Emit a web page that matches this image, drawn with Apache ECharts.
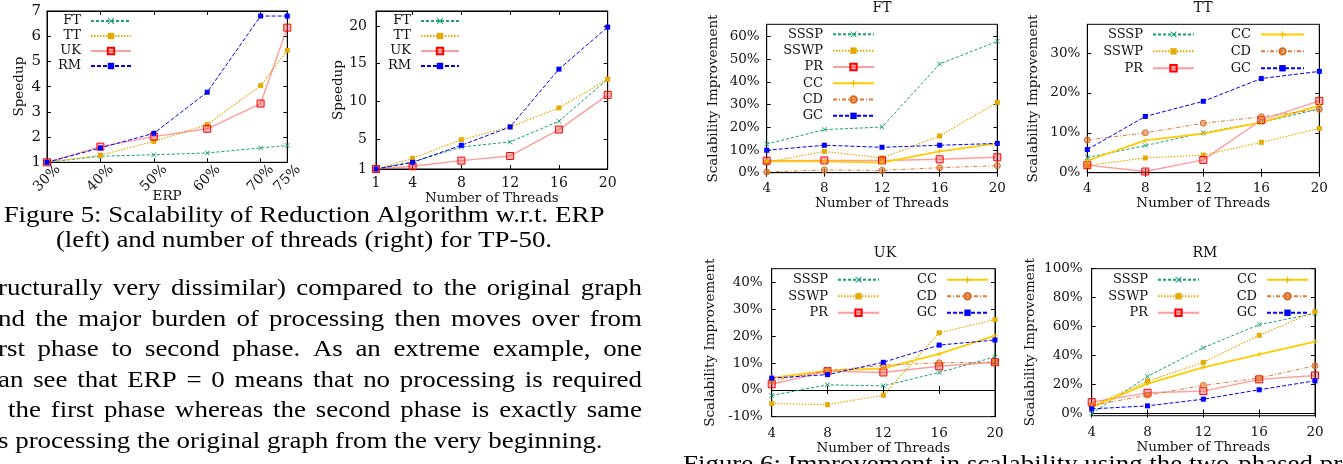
<!DOCTYPE html>
<html><head><meta charset="utf-8">
<script src="https://cdn.jsdelivr.net/npm/echarts@6/dist/echarts.min.js"></script>
<style>html,body{margin:0;padding:0;background:#fff}#c{width:1343px;height:464px}</style>
</head><body><div id="c"></div>
<script>
// ---------------- data ----------------
const erpTicks = [30, 40, 50, 60, 70, 75];
const erpFT = [1.00, 1.24, 1.30, 1.37, 1.57, 1.67];
const erpTT = [1.00, 1.28, 1.83, 2.49, 4.04, 5.44];
const erpUK = [1.00, 1.62, 2.02, 2.33, 3.33, 6.34];
const erpRM = [1.00, 1.57, 2.15, 3.78, 6.80, 6.80];
const speedupTicksERP = [1, 2, 3, 4, 5, 6, 7];

const thrTicks = [1, 4, 8, 12, 16, 20];
const thrFT = [1.00, 1.93, 3.93, 4.60, 7.35, 12.94];
const thrTT = [1.00, 2.42, 4.90, 6.59, 9.12, 12.94];
const thrUK = [1.00, 1.36, 2.11, 2.73, 6.24, 10.85];
const thrRM = [1.00, 1.89, 4.15, 6.59, 14.27, 19.86];
const speedupTicksThr = [1, 5, 10, 15, 20];

const impThreads = [4, 8, 12, 16, 20];
const ftSSSP = [12.6, 19.0, 20.1, 47.9, 57.9];
const ftSSWP = [4.6, 9.4, 6.5, 16.2, 31.0];
const ftPR   = [5.3, 5.4, 5.4, 5.9, 6.8];
const ftCC   = [5.0, 5.0, 4.4, 9.4, 12.9];
const ftCD   = [0.3, 1.2, 1.0, 2.2, 3.1];
const ftGC   = [9.9, 12.1, 11.2, 12.1, 12.9];

const ttSSSP = [3.8, 6.8, 10.0, 12.6, 16.0];
const ttSSWP = [1.8, 3.7, 4.4, 7.6, 11.1];
const ttPR   = [1.9, 0.3, 3.2, 13.2, 18.0];
const ttCC   = [3.0, 8.1, 9.8, 12.6, 16.8];
const ttCD   = [8.2, 10.0, 12.4, 14.0, 15.9];
const ttGC   = [5.8, 14.1, 17.9, 23.6, 25.4];

const ukSSSP = [-2.1, 1.9, 1.5, 6.5, 12.3];
const ukSSWP = [-5.1, -5.5, -2.0, 21.3, 26.2];
const ukPR   = [2.1, 7.0, 6.5, 8.8, 10.3];
const ukCC   = [4.5, 7.2, 8.0, 13.4, 20.2];
const ukCD   = [3.4, 7.1, 9.2, 10.1, 10.3];
const ukGC   = [4.4, 5.7, 10.3, 16.7, 18.6];

const rmSSSP = [0.0, 25.6, 45.5, 61.4, 69.1];
const rmSSWP = [5.3, 22.4, 35.3, 54.0, 70.4];
const rmPR   = [7.9, 14.3, 15.5, 23.6, 26.3];
const rmCC   = [4.4, 20.6, 31.9, 40.9, 49.7];
const rmCD   = [5.5, 12.7, 19.4, 24.5, 33.0];
const rmGC   = [3.2, 5.3, 9.9, 16.4, 22.6];

const ftTicks = [0, 10, 20, 30, 40, 50, 60];
const ttTicks = [0, 10, 20, 30];
const ukTicks = [-10, 0, 10, 20, 30, 40];
const rmTicks = [0, 20, 40, 60, 80, 100];

const datasetNames = ['FT', 'TT', 'UK', 'RM'];
const algoNames = ['SSSP', 'SSWP', 'PR', 'CC', 'CD', 'GC'];

const captionLines = [
  'Figure 5: Scalability of Reduction Algorithm w.r.t. ERP',
  '(left) and number of threads (right) for TP-50.'
];
const bodyLines = [
  'ructurally very dissimilar) compared to the original graph',
  'nd the major burden of processing then moves over from',
  'rst phase to second phase.  As an extreme example, one',
  'an see that ERP = 0 means that no processing is required',
  'the first phase whereas the second phase is exactly same',
  's processing the original graph from the very beginning.'
];
const fig6Caption = 'Figure 6: Improvement in scalability using the two-phased processing';

// ---------------- styles ----------------
const SERIF = '"DejaVu Serif", serif';
const PAGE_SERIF = '"Liberation Serif", serif';
const TXT = '#111';
const X_PATH = 'path://M0,1L1,0L5,4L9,0L10,1L6,5L10,9L9,10L5,6L1,10L0,9L4,5Z';
const PLUS_PATH = 'path://M4,0H6V4H10V6H6V10H4V6H0V4H4Z';
const STY = {
  green:  {line: '#1b9e77', type: [3, 2], width: 1, symbol: X_PATH, size: 5, fill: '#1b9e77'},
  gold:   {line: '#e6ab02', type: [1.5, 1.5], width: 1.2, symbol: 'rect', size: 5, fill: '#e6ab02'},
  red:    {line: 'rgba(255,90,90,0.6)', type: 'solid', width: 1.4, symbol: 'rect', size: 7, fill: 'rgba(255,60,60,0.35)', border: '#ff0000'},
  blue:   {line: '#0000ff', type: [4, 2], width: 1, symbol: 'rect', size: 5, fill: '#0000ff'},
  yellow: {line: '#ffcc00', type: 'solid', width: 1.8, symbol: PLUS_PATH, size: 5, fill: '#f0c000'},
  orange: {line: '#e07b39', type: [4, 2, 1, 2], width: 1, symbol: 'circle', size: 6, fill: 'rgba(230,120,50,0.55)', border: '#d86a20'}
};
const styleOf = {FT: 'green', TT: 'gold', UK: 'red', RM: 'blue',
  SSSP: 'green', SSWP: 'gold', PR: 'red', CC: 'yellow', CD: 'orange', GC: 'blue'};

// ---------------- layout ----------------
const W = 1343;
const grids = [
  {left: 47, top: 11, width: 240.3, height: 151.3},
  {left: 376, top: 11, width: 231.7, height: 158},
  {left: 766.7, top: 24.3, width: 230.6, height: 148.4},
  {left: 1087.3, top: 24.3, width: 232, height: 148.4},
  {left: 771.7, top: 268.7, width: 223.3, height: 148},
  {left: 1091.7, top: 268.7, width: 223.3, height: 147}
];

const font = (s) => ({fontFamily: SERIF, fontSize: s, color: TXT});
const AX_FS = 13.5;

const xAxes = [], yAxes = [], series = [];
function addAxes(gi, xc, yc) {
  const tickX = {show: true, inside: true, length: 4, lineStyle: {color: '#000'}, customValues: xc.ticks};
  const tickY = {show: true, inside: true, length: 4, lineStyle: {color: '#000'}, customValues: yc.ticks};
  const xl = Object.assign({customValues: xc.ticks, margin: xc.margin, rotate: xc.rotate || 0,
      formatter: xc.fmt || '{value}', showMinLabel: true, showMaxLabel: true}, font(xc.fs || AX_FS));
  if (xc.rotate) { xl.align = 'center'; xl.verticalAlign = 'middle'; }
  xAxes.push({type: 'value', gridIndex: gi, min: xc.min, max: xc.max, position: 'bottom',
    axisLine: {show: true, lineStyle: {color: '#000'}}, axisTick: tickX, splitLine: {show: false},
    axisLabel: xl, nameMoveOverlap: false,
    name: xc.name, nameLocation: 'middle', nameGap: xc.nameGap, nameTextStyle: font(AX_FS)});
  xAxes.push({type: 'value', gridIndex: gi, min: xc.min, max: xc.max, position: 'top',
    axisLine: {show: true, lineStyle: {color: '#000'}}, axisTick: tickX, splitLine: {show: false},
    axisLabel: {show: false}});
  yAxes.push({type: 'value', gridIndex: gi, min: yc.min, max: yc.max, position: 'left',
    axisLine: {show: true, lineStyle: {color: '#000'}}, axisTick: tickY, splitLine: {show: false},
    axisLabel: Object.assign({customValues: yc.ticks, margin: yc.margin, formatter: yc.fmt || '{value}',
      showMinLabel: true, showMaxLabel: true}, font(yc.fs || AX_FS)),
    name: yc.name, nameLocation: 'middle', nameGap: yc.nameGap, nameRotate: 90, nameTextStyle: font(AX_FS)});
  yAxes.push({type: 'value', gridIndex: gi, min: yc.min, max: yc.max, position: 'right',
    axisLine: {show: true, lineStyle: {color: '#000'}}, axisTick: tickY, splitLine: {show: false},
    axisLabel: {show: false}});
}
function addSeries(gi, name, xs, ys) {
  const s = STY[styleOf[name]];
  series.push({
    type: 'line', name: name, xAxisIndex: gi * 2, yAxisIndex: gi * 2,
    data: xs.map((x, i) => [x, ys[i]]),
    symbol: s.symbol, symbolSize: s.size, showSymbol: true, animation: false,
    lineStyle: {color: s.line, type: s.type, width: s.width},
    itemStyle: {color: s.fill, borderColor: s.border || s.fill, borderWidth: s.border ? 1 : 0},
    emphasis: {disabled: true}
  });
}

// chart 1: ERP
addAxes(0, {min: 30, max: 75, ticks: erpTicks, margin: 16, rotate: 45, fmt: '{value}%', name: 'ERP', nameGap: 27, fs: 14},
           {min: 1, max: 7, ticks: speedupTicksERP, margin: 6, name: 'Speedup', nameGap: 21, fs: 15});
addSeries(0, 'FT', erpTicks, erpFT);
addSeries(0, 'TT', erpTicks, erpTT);
addSeries(0, 'UK', erpTicks, erpUK);
addSeries(0, 'RM', erpTicks, erpRM);
// chart 2: threads
addAxes(1, {min: 1, max: 20, ticks: thrTicks, margin: 7, name: 'Number of Threads', nameGap: 22, fs: 14},
           {min: 1, max: 22, ticks: speedupTicksThr, margin: 9, name: 'Speedup', nameGap: 30, fs: 14});
addSeries(1, 'FT', thrTicks, thrFT);
addSeries(1, 'TT', thrTicks, thrTT);
addSeries(1, 'UK', thrTicks, thrUK);
addSeries(1, 'RM', thrTicks, thrRM);
// charts 3-6
const impCharts = [
  {ticks: ftTicks, min: 0, max: 65.4, data: [ftSSSP, ftSSWP, ftPR, ftCC, ftCD, ftGC]},
  {ticks: ttTicks, min: 0, max: 37.2, data: [ttSSSP, ttSSWP, ttPR, ttCC, ttCD, ttGC]},
  {ticks: ukTicks, min: -10, max: 45.2, data: [ukSSSP, ukSSWP, ukPR, ukCC, ukCD, ukGC]},
  {ticks: rmTicks, min: -1.5, max: 100, data: [rmSSSP, rmSSWP, rmPR, rmCC, rmCD, rmGC]}
];
const impNameGapY = [46, 47, 54, 54];
const impMarginY = [7, 7, 9, 9];
const impMarginX = [9, 9, 10, 10];
const impNameGapX = [24, 24, 25, 25];
impCharts.forEach((c, k) => {
  const gi = k + 2;
  addAxes(gi, {min: 4, max: 20, ticks: impThreads, margin: impMarginX[k], name: 'Number of Threads', nameGap: impNameGapX[k]},
              {min: c.min, max: c.max, ticks: c.ticks, margin: impMarginY[k], fmt: '{value}%',
               name: 'Scalability Improvement', nameGap: impNameGapY[k]});
  algoNames.forEach((n, j) => addSeries(gi, n, impThreads, c.data[j]));
});

// legends
function legend(names, lineRight, top, rowH, itemW) {
  return {
    data: names, orient: 'vertical', align: 'right', right: W - lineRight, top: top,
    itemWidth: itemW, itemHeight: 8, itemGap: 0, selectedMode: false, padding: 0,
    textStyle: {fontFamily: SERIF, fontSize: 13, color: TXT, lineHeight: rowH, height: rowH, padding: [0, 5, 0, 0]}
  };
}
const legends = [
  legend(datasetNames, 132, 13.5, 15, 40),
  legend(datasetNames, 460, 13.5, 15, 38),
  legend(algoNames, 875, 26.2, 16.3, 41),
  legend(algoNames.slice(0, 3), 1195, 26, 16.9, 41),
  legend(algoNames.slice(3), 1305, 26, 16.9, 43),
  legend(algoNames.slice(0, 3), 880, 271.5, 16.5, 41),
  legend(algoNames.slice(3), 989, 271.5, 16.5, 41),
  legend(algoNames.slice(0, 3), 1200, 271.5, 16.5, 41),
  legend(algoNames.slice(3), 1309, 271.5, 16.5, 41)
];

// titles for panels
const panelTitles = [
  {text: 'FT', x: 882, y: 1.5}, {text: 'TT', x: 1203, y: 1.5},
  {text: 'UK', x: 885, y: 246}, {text: 'RM', x: 1205, y: 246}
];
const titles = panelTitles.map(t => ({text: t.text, left: t.x, top: t.y, textAlign: 'center', padding: 0,
  textStyle: {fontFamily: SERIF, fontSize: 14, fontWeight: 'normal', color: TXT}}));

// text of the page (captions + body)
const BODY_FONT_SIZE = 23;
const SX = 1.17;
const bodyFont = BODY_FONT_SIZE + 'px ' + PAGE_SERIF;
const cv = document.createElement('canvas').getContext('2d');
cv.font = bodyFont;
const graphics = [];
function textEl(str, x, y, align) {
  graphics.push({type: 'text', x: x, y: y, scaleX: SX, silent: true,
    style: {text: str, font: bodyFont, fill: '#000', textAlign: align || 'left', textVerticalAlign: 'middle'}});
}
function justified(str, x0, x1, y) {
  const words = str.split(/\s+/);
  const widths = words.map(w => cv.measureText(w).width * SX);
  const total = widths.reduce((a, b) => a + b, 0);
  const gap = (x1 - x0 - total) / (words.length - 1);
  let x = x0;
  words.forEach((w, i) => { textEl(w, x, y, 'left'); x += widths[i] + gap; });
}
textEl(captionLines[0], 304, 216, 'center');
textEl(captionLines[1], 304, 241, 'center');
const bodyY = [289, 319.5, 350, 380.5, 411, 441.5];
const bodyX0 = [-2, -2, -2, -2, 8, -2];
bodyLines.forEach((l, i) => {
  if (i < bodyLines.length - 1) justified(l, bodyX0[i], 642, bodyY[i]);
  else textEl(l, bodyX0[i], bodyY[i], 'left');
});
graphics.push({type: 'text', x: 683, y: 453, scaleX: SX, silent: true,
  style: {text: fig6Caption, font: bodyFont, fill: '#000', textAlign: 'left', textVerticalAlign: 'top'}});

const chart = echarts.init(document.getElementById('c'), null, {renderer: 'canvas'});
chart.setOption({
  animation: false,
  backgroundColor: '#fff',
  title: titles,
  grid: grids.map(g => Object.assign({show: true, borderColor: '#000', borderWidth: 1, backgroundColor: 'transparent', containLabel: false}, g)),
  xAxis: xAxes, yAxis: yAxes,
  legend: legends,
  series: series,
  graphic: graphics
});
</script></body></html>
